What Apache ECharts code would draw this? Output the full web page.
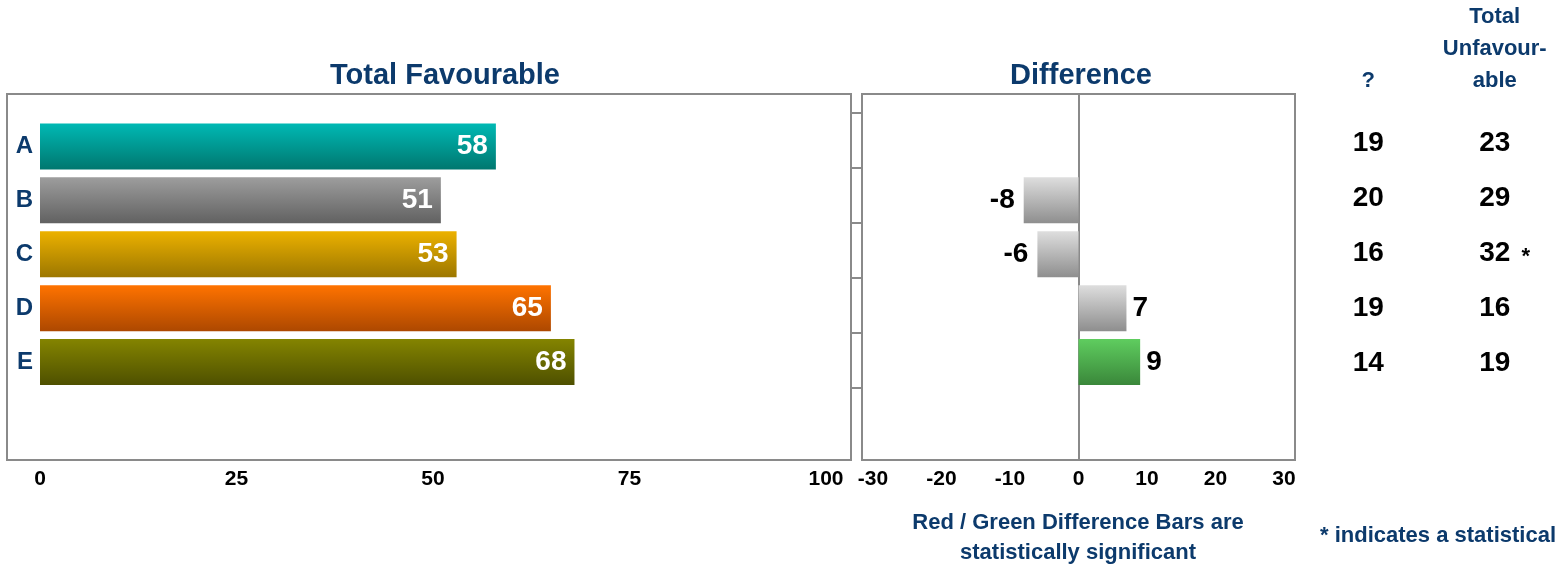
<!DOCTYPE html>
<html>
<head>
<meta charset="utf-8">
<script src="https://cdn.jsdelivr.net/npm/echarts@6/dist/echarts.min.js"></script>
<style>
  html, body { margin: 0; padding: 0; background: #ffffff; }
  #chart { width: 1558px; height: 565px; }
</style>
</head>
<body>
<div id="chart"></div>
<script>
// ---- data ----
const categories = ['A', 'B', 'C', 'D', 'E'];
const favourable = [58, 51, 53, 65, 68];
const difference = ['-', -8, -6, 7, 9];
const diffSignificant = [false, false, false, false, true];
const neutral = [19, 20, 16, 19, 14];
const unfavourable = [23, 29, 32, 16, 19];
const unfavSignificant = [false, false, true, false, false];
const tableColumns = ['?', 'Total\nUnfavour-\nable'];
const favScale = { min: 0, max: 100, interval: 25 };
const diffScale = { min: -30, max: 30, interval: 10 };

// ---- styling ----
const FONT = "'Liberation Sans', Arial, sans-serif";
const NAVY = '#0c3a6c';
const FRAME = '#8a8a8a';
const barPalette = [
  ['#00b9b4', '#00776f'],
  ['#9d9d9d', '#616161'],
  ['#ecb100', '#9c7700'],
  ['#ff7300', '#ad4800'],
  ['#848400', '#4e5000']
];
const diffPalette = {
  neutral: ['#dedede', '#8e8e8e'],
  positive: ['#5fcd5f', '#3a873a'],
  negative: ['#ff5a5a', '#b02020']
};
function vGrad(pair) {
  return new echarts.graphic.LinearGradient(0, 0, 0, 1, [
    { offset: 0, color: pair[0] },
    { offset: 1, color: pair[1] }
  ]);
}

const chart = echarts.init(document.getElementById('chart'), null, { renderer: 'canvas' });

const barTop = 119.5, barHeight = 269.5;
const axisLabelStyle = { color: '#000', fontSize: 21, fontWeight: 'bold', fontFamily: FONT, margin: 80 };
const tableLabel = { color: '#000', fontSize: 28, fontWeight: 'bold', fontFamily: FONT };

const option = {
  animation: false,
  backgroundColor: '#ffffff',
  textStyle: { fontFamily: FONT },
  grid: [
    // 0: favourable bars
    { left: 40, width: 786, top: barTop, height: barHeight },
    // 1: difference bars
    { left: 873, width: 411, top: barTop, height: barHeight },
    // 2: difference frame with zero line
    { left: 862, width: 433, top: 94, height: 366, show: true, borderColor: FRAME, borderWidth: 2, backgroundColor: 'transparent' },
    // 3: difference side ticks
    { left: 862, width: 433, top: 113, height: 275 },
    // 4: favourable frame
    { left: 7, width: 844, top: 94, height: 366, show: true, borderColor: FRAME, borderWidth: 2, backgroundColor: 'transparent' },
    // 5: table of ? / unfavourable
    { left: 1305, width: 260, top: 115.5, height: 275 }
  ],
  xAxis: [
    { gridIndex: 0, type: 'value', min: favScale.min, max: favScale.max, interval: favScale.interval,
      axisLine: { show: false }, axisTick: { show: false }, splitLine: { show: false },
      axisLabel: axisLabelStyle },
    { gridIndex: 1, type: 'value', min: diffScale.min, max: diffScale.max, interval: diffScale.interval,
      axisLine: { show: false }, axisTick: { show: false }, splitLine: { show: false },
      axisLabel: axisLabelStyle },
    { gridIndex: 2, type: 'value', min: -31.6, max: 31.6, show: false },
    { gridIndex: 3, type: 'value', min: 0, max: 1, show: false },
    { gridIndex: 4, type: 'value', min: 0, max: 1, show: false },
    { gridIndex: 5, type: 'category', data: tableColumns, position: 'top',
      axisLine: { show: false }, axisTick: { show: false }, splitLine: { show: false },
      axisLabel: { color: NAVY, fontSize: 22, fontWeight: 'bold', fontFamily: FONT, lineHeight: 32, margin: 19, interval: 0 } }
  ],
  yAxis: [
    { gridIndex: 0, type: 'category', data: categories, inverse: true,
      axisLine: { show: false }, axisTick: { show: false },
      axisLabel: { color: NAVY, fontSize: 24, fontWeight: 'bold', fontFamily: FONT, margin: 7 } },
    { gridIndex: 1, type: 'category', data: categories, inverse: true, show: false },
    { gridIndex: 2, type: 'value', min: 0, max: 1,
      axisLine: { show: true, onZero: true, lineStyle: { color: FRAME, width: 2 } },
      axisTick: { show: false }, axisLabel: { show: false }, splitLine: { show: false } },
    { gridIndex: 3, type: 'value', min: 0, max: 5, interval: 1,
      axisLine: { show: false },
      axisTick: { show: true, inside: false, length: 11, lineStyle: { color: FRAME, width: 2 } },
      axisLabel: { show: false }, splitLine: { show: false } },
    { gridIndex: 4, type: 'value', min: 0, max: 1, show: false },
    { gridIndex: 5, type: 'category', data: categories, inverse: true, show: false }
  ],
  graphic: [
    { type: 'text', style: { text: 'Total Favourable', x: 445, y: 76, align: 'center', verticalAlign: 'middle',
      fill: NAVY, font: 'bold 29px ' + FONT } },
    { type: 'text', style: { text: 'Difference', x: 1081, y: 76, align: 'center', verticalAlign: 'middle',
      fill: NAVY, font: 'bold 29px ' + FONT } },
    { type: 'text', style: { text: 'Red / Green Difference Bars are', x: 1078, y: 523, align: 'center', verticalAlign: 'middle',
      fill: NAVY, font: 'bold 22px ' + FONT } },
    { type: 'text', style: { text: 'statistically significant', x: 1078, y: 553, align: 'center', verticalAlign: 'middle',
      fill: NAVY, font: 'bold 22px ' + FONT } },
    { type: 'text', style: { text: '* indicates a statistical', x: 1320, y: 536, align: 'left', verticalAlign: 'middle',
      fill: NAVY, font: 'bold 22px ' + FONT } }
  ],
  series: [
    {
      type: 'bar', xAxisIndex: 0, yAxisIndex: 0, barWidth: 46,
      data: favourable.map((v, i) => ({ value: v, itemStyle: { color: vGrad(barPalette[i]) } })),
      label: { show: true, position: 'insideRight', distance: 8, color: '#fff',
        fontSize: 28, fontWeight: 'bold', fontFamily: FONT }
    },
    {
      type: 'bar', xAxisIndex: 1, yAxisIndex: 1, barWidth: 46,
      data: difference.map((v, i) => {
        if (v === '-') return '-';
        const kind = !diffSignificant[i] ? 'neutral' : (v > 0 ? 'positive' : 'negative');
        return {
          value: v,
          itemStyle: { color: vGrad(diffPalette[kind]) },
          label: { position: v < 0 ? 'left' : 'right', distance: v < 0 ? 9 : 6 }
        };
      }),
      label: { show: true, color: '#000', fontSize: 28, fontWeight: 'bold', fontFamily: FONT }
    },
    {
      type: 'scatter', xAxisIndex: 5, yAxisIndex: 5, symbolSize: 0,
      itemStyle: { opacity: 1 },
      data: categories.map((c, i) => [tableColumns[0], c, neutral[i]]),
      label: Object.assign({ show: true, position: 'inside', formatter: p => String(p.value[2]) }, tableLabel)
    },
    {
      type: 'scatter', xAxisIndex: 5, yAxisIndex: 5, symbolSize: 0,
      itemStyle: { opacity: 1 },
      data: categories.map((c, i) => [tableColumns[1], c, unfavourable[i]]),
      label: Object.assign({ show: true, position: 'inside', formatter: p => String(p.value[2]) }, tableLabel)
    },
    {
      type: 'scatter', xAxisIndex: 5, yAxisIndex: 5, symbolSize: 0,
      itemStyle: { opacity: 1 },
      data: categories.map((c, i) => unfavSignificant[i] ? [tableColumns[1], c, '*'] : null).filter(Boolean),
      label: { show: true, position: 'inside', offset: [31, 4], formatter: '*',
        color: '#000', fontSize: 22, fontWeight: 'bold', fontFamily: FONT }
    }
  ]
};

chart.setOption(option);
</script>
</body>
</html>
